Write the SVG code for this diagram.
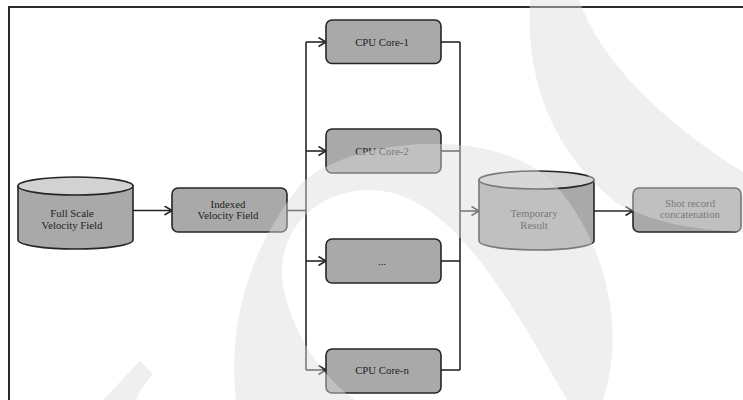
<svg xmlns="http://www.w3.org/2000/svg" width="743" height="400" viewBox="0 0 743 400">
<defs>
<style>
.box{fill:#a9a9a9;stroke:#262626;stroke-width:1.6}
.cyl{fill:#a9a9a9;stroke:#262626;stroke-width:1.6}
.cyltop{fill:#d2d2d2;stroke:#262626;stroke-width:1.6}
text{font-family:'Liberation Serif','Times New Roman',serif;font-size:10.8px;fill:#1e1e1e;text-anchor:middle}
.con{fill:none;stroke:#262626;stroke-width:1.6}
.wm{fill:#dcdcdc;fill-opacity:0.46;stroke:none}
</style>
<marker id="arr" markerWidth="10" markerHeight="12" refX="8" refY="5" orient="auto" markerUnits="userSpaceOnUse">
<path d="M0.5,0.5 L8,5 L0.5,9.5" fill="none" stroke="#262626" stroke-width="1.6"/>
</marker>
</defs>
<rect x="0" y="0" width="743" height="400" fill="#ffffff"/>
<path d="M9,400 L9,7 L743,7" fill="none" stroke="#2a2a2a" stroke-width="2"/>

<g id="connectors">
<line class="con" x1="133" y1="210.5" x2="172" y2="210.5" marker-end="url(#arr)"/>
<polyline class="con" points="287,210.5 306,210.5"/>
<line class="con" x1="306" y1="42" x2="306" y2="370"/>
<line class="con" x1="306" y1="42" x2="326" y2="42" marker-end="url(#arr)"/>
<line class="con" x1="306" y1="151" x2="326" y2="151" marker-end="url(#arr)"/>
<line class="con" x1="306" y1="261" x2="326" y2="261" marker-end="url(#arr)"/>
<line class="con" x1="306" y1="370" x2="326" y2="370" marker-end="url(#arr)"/>
<line class="con" x1="441" y1="42" x2="460" y2="42"/>
<line class="con" x1="441" y1="151" x2="460" y2="151"/>
<line class="con" x1="441" y1="261" x2="460" y2="261"/>
<line class="con" x1="441" y1="370" x2="460" y2="370"/>
<line class="con" x1="460" y1="42" x2="460" y2="370"/>
<line class="con" x1="460" y1="211" x2="479" y2="211" marker-end="url(#arr)"/>
<line class="con" x1="594" y1="211" x2="633" y2="211" marker-end="url(#arr)"/>
</g>

<g id="full-scale" font-family="Liberation Serif, serif">
<path class="cyl" d="M18,186 L18,240 A57.5,9 0 0 0 133,240 L133,186 Z"/>
<ellipse class="cyltop" cx="75.5" cy="186" rx="57.5" ry="9"/>
<text x="72" y="217">Full Scale</text>
<text x="72" y="228.5">Velocity Field</text>
</g>

<g id="indexed">
<rect class="box" x="172" y="188" width="115" height="44" rx="6"/>
<text x="228" y="207.5">Indexed</text>
<text x="228" y="218.5">Velocity Field</text>
</g>

<g id="core1">
<rect class="box" x="326" y="20" width="115" height="43.5" rx="6"/>
<text x="382" y="45.5">CPU Core-1</text>
</g>
<g id="core2">
<rect class="box" x="326" y="129" width="115" height="44" rx="6"/>
<text x="382" y="154.5">CPU Core-2</text>
</g>
<g id="core-dots">
<rect class="box" x="326" y="239" width="115" height="44" rx="6"/>
<text x="382" y="264.5">...</text>
</g>
<g id="core-n">
<rect class="box" x="326" y="349" width="115" height="44" rx="6"/>
<text x="382" y="373.5">CPU Core-n</text>
</g>

<g id="temporary">
<path class="cyl" d="M479,180 L479,241 A57.5,9 0 0 0 594,241 L594,180 Z"/>
<ellipse class="cyltop" cx="536.5" cy="180" rx="57.5" ry="9"/>
<text x="534" y="216.5">Temporary</text>
<text x="534" y="228.5">Result</text>
</g>

<g id="shot-record">
<rect class="box" x="633" y="188" width="108" height="44" rx="6"/>
<text x="690" y="206.5">Shot record</text>
<text x="690" y="218">concatenation</text>
</g>

<g id="watermark">
<path class="wm" d="M530,0 C525,90 560,160 620,205 C660,225 700,230 743,232 L743,172 C660,120 600,60 579,0 Z"/>
<path class="wm" d="M236,400 C228,330 245,255 300,185 C345,140 480,125 545,175 C590,215 632,310 603,400 L567,400 C510,300 450,190 370,190 C310,190 270,240 285,295 C295,335 320,375 355,400 Z"/>
<path class="wm" d="M103,400 L140,361 L153,374 C146,382 139,392 136,400 Z"/>
</g>
</svg>
